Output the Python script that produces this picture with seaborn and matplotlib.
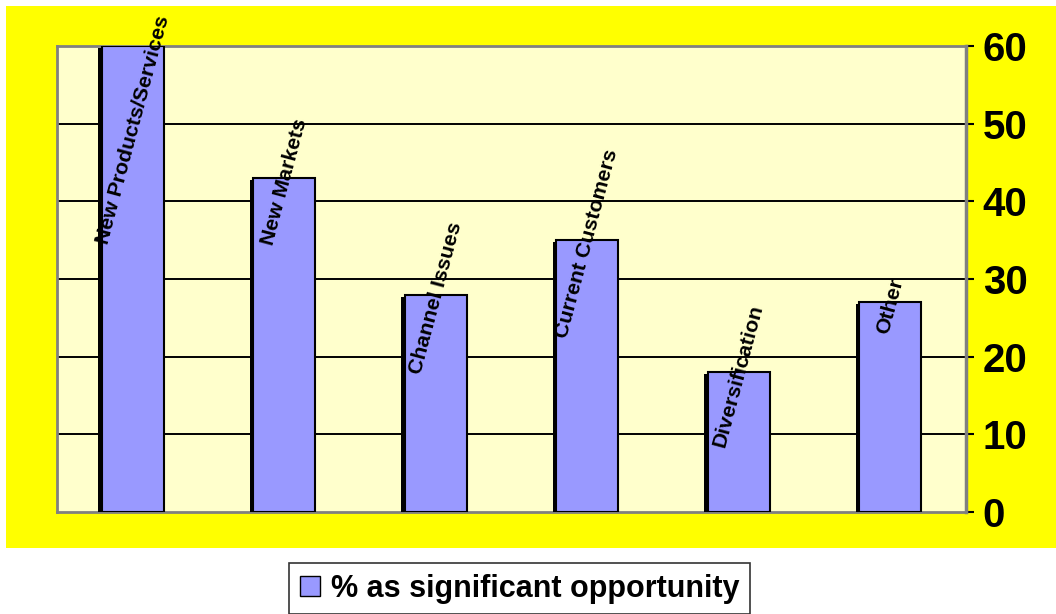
import numpy as np
import pandas as pd
import matplotlib
matplotlib.use('Agg')
import matplotlib.pyplot as plt
import matplotlib.patheffects as pe
from matplotlib.patches import Rectangle, Patch
import seaborn as sns

# data
categories = ['New Products/Services', 'New Markets', 'Channel Issues',
              'Current Customers', 'Diversification', 'Other']
values = [60, 43, 28, 35, 18, 27]
y_ticks = [0, 10, 20, 30, 40, 50, 60]
series_name = '% as significant opportunity'

BAR = '#9999FF'
PLOT_BG = '#FFFFCC'
OUTER_BG = '#FFFF00'

sns.set_theme(style='white')
plt.rcParams['font.family'] = ['Liberation Sans', 'DejaVu Sans']
plt.rcParams['font.weight'] = 'bold'
plt.rcParams['text.color'] = 'black'
plt.rcParams['ytick.color'] = 'black'
plt.rcParams['ytick.labelcolor'] = 'black'

df = pd.DataFrame({'category': categories, 'value': values})

fig = plt.figure(figsize=(10.56, 6.14), dpi=100, facecolor='white')
# yellow chart area
fig.patches.append(Rectangle((6 / 1056, 1 - 548 / 614), 1 - 6 / 1056, (548 - 6) / 614,
                             transform=fig.transFigure, facecolor=OUTER_BG,
                             edgecolor='none', zorder=-10))

ax = fig.add_axes([57 / 1056, 1 - 512 / 614, (966 - 57) / 1056, (512 - 46) / 614])
ax.set_facecolor(PLOT_BG)

sns.barplot(data=df, x='category', y='value', color=BAR, width=0.41,
            edgecolor='black', linewidth=1.5, saturation=1, ax=ax, zorder=3)
for bar in ax.patches:
    bar.set_path_effects([pe.SimplePatchShadow(offset=(-2.5, -1.5), shadow_rgbFace='black', alpha=1),
                          pe.Normal()])

ax.set_ylim(0, 60)
ax.set_xlim(-0.5, len(categories) - 0.5)
ax.set_yticks(y_ticks)
ax.yaxis.tick_right()
ax.tick_params(axis='y', direction='out', length=6, width=1.5, color='black',
               labelcolor='black', labelsize=29, pad=6)
for lab in ax.get_yticklabels():
    lab.set_fontweight('bold')
ax.set_xticks([])
ax.set_xlabel('')
ax.set_ylabel('')

for y in y_ticks[1:-1]:
    ax.axhline(y, color='black', lw=1.4, zorder=1)

for name in ['top', 'left', 'bottom']:
    ax.spines[name].set_color('#808080')
    ax.spines[name].set_linewidth(2)
ax.spines['right'].set_color('#808080')
ax.spines['right'].set_linewidth(2.5)

# category labels, rotated across the top of each bar
renderer = fig.canvas.get_renderer()
top_limit = fig.bbox.height - 14  # keep labels inside the yellow area
for i, (name, v) in enumerate(zip(categories, values)):
    t = ax.text(i, v - 0.5, name, rotation=75, ha='center', va='center',
                rotation_mode='anchor', fontsize=15.3, fontweight='bold',
                color='black', zorder=5, clip_on=False)
    bb = t.get_window_extent(renderer)
    if bb.y1 > top_limit:
        shift = (bb.y1 - top_limit) / ax.bbox.height * 60
        t.set_y(v - 0.5 - shift)

handle = Patch(facecolor=BAR, edgecolor='black', linewidth=1)
leg = fig.legend([handle], [series_name], loc='upper center',
                 bbox_to_anchor=(0.492, 1 - 563 / 614), frameon=True,
                 fancybox=False, prop={'size': 22, 'weight': 'bold'},
                 handlelength=0.65, handleheight=0.65, handletextpad=0.35,
                 borderpad=0.35, borderaxespad=0)
leg.get_frame().set_edgecolor('black')
leg.get_frame().set_linewidth(1.2)

fig.savefig('out.png', dpi=100, facecolor='white')
